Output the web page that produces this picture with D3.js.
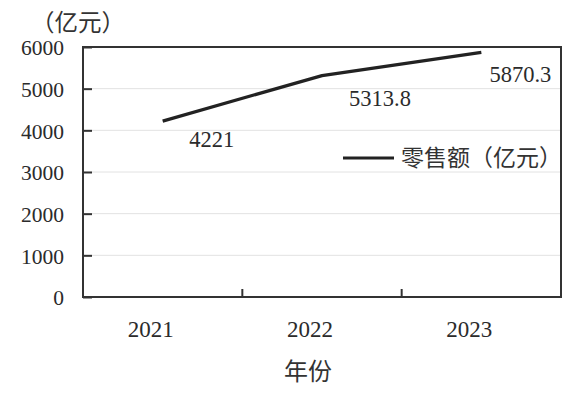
<!DOCTYPE html>
<html><head><meta charset="utf-8">
<script src="https://cdn.jsdelivr.net/npm/d3@7"></script>
<style>
html,body{margin:0;padding:0;background:#fff;}
svg{display:block;}
</style>
</head><body>
<svg id="c" width="567" height="393"></svg>
<script>
const years = ["2021", "2022", "2023"];
const sales = [4221, 5313.8, 5870.3];
const valueLabels = ["4221", "5313.8", "5870.3"];
const yTicks = [0, 1000, 2000, 3000, 4000, 5000, 6000];
const seriesName = "零售额（亿元）";
const yUnit = "（亿元）";
const xTitle = "年份";

const svg = d3.select("#c");
const L = 83, R = 561, T = 47, B = 297;
const serif = '"Liberation Serif", "DejaVu Serif", serif';
const cjk = '"Noto Sans CJK SC", "Noto Sans", sans-serif';

const x = d3.scaleBand().domain(years).range([L, R]);
const y = d3.scaleLinear().domain([0, 6000]).range([B, T]);

// gridlines
svg.append("g").selectAll("line").data(yTicks.filter(d => d > 0 && d < 6000)).join("line")
  .attr("x1", L).attr("x2", R).attr("y1", d => y(d)).attr("y2", d => y(d))
  .attr("stroke", "#e2e2e2").attr("stroke-width", 1);

// y axis ticks (inside)
const yAxis = d3.axisLeft(y).tickValues(yTicks).tickSize(-9).tickPadding(20).tickFormat(d3.format("d"));
const gy = svg.append("g").attr("transform", `translate(${L},0)`).call(yAxis);
gy.attr("font-family", null).attr("font-size", null);
gy.select(".domain").remove();
gy.selectAll(".tick line").attr("stroke", "#333").attr("stroke-width", 2);
gy.selectAll(".tick text").style("font-family", serif).style("font-size", "21.5px").attr("fill", "#2b2b2b").attr("x", -19).attr("dy", "0.36em");

// x axis ticks at band boundaries
svg.append("g").selectAll("line").data(years.slice(1)).join("line")
  .attr("x1", d => x(d)).attr("x2", d => x(d)).attr("y1", B).attr("y2", B - 8)
  .attr("stroke", "#333").attr("stroke-width", 2);
svg.append("g").selectAll("text").data(years).join("text")
  .attr("x", d => x(d) + x.bandwidth() / 2 - 12).attr("y", 337)
  .attr("text-anchor", "middle").style("font-family", serif).style("font-size", "23px").attr("fill", "#2b2b2b")
  .text(d => d);

// frame
svg.append("rect").attr("x", L).attr("y", T).attr("width", R - L).attr("height", B - T)
  .attr("fill", "none").attr("stroke", "#333").attr("stroke-width", 2);

// line
const line = d3.line().x((d, i) => x(years[i]) + x.bandwidth() / 2).y(d => y(d));
svg.append("path").datum(sales).attr("d", line)
  .attr("fill", "none").attr("stroke", "#222").attr("stroke-width", 3.2).attr("stroke-linejoin", "round");

// value labels
const labelDx = [49, 58, 39], labelDy = [26, 30, 30];
svg.append("g").selectAll("text").data(sales).join("text")
  .attr("x", (d, i) => x(years[i]) + x.bandwidth() / 2 + labelDx[i])
  .attr("y", (d, i) => y(d) + labelDy[i])
  .attr("text-anchor", "middle").style("font-family", serif).style("font-size", "22.5px").attr("fill", "#2b2b2b")
  .text((d, i) => valueLabels[i]);

// legend
svg.append("line").attr("x1", 343).attr("x2", 394).attr("y1", 158).attr("y2", 158)
  .attr("stroke", "#222").attr("stroke-width", 3.2);
svg.append("text").attr("x", 401).attr("y", 158).attr("dy", "0.36em")
  .style("font-family", cjk).style("font-size", "23px").attr("fill", "#333").text(seriesName);

// unit label
svg.append("text").attr("x", 31).attr("y", 23).attr("dy", "0.36em")
  .style("font-family", cjk).style("font-size", "23.5px").attr("fill", "#333").text(yUnit);

// x title
svg.append("text").attr("x", 308).attr("y", 371).attr("dy", "0.36em").attr("text-anchor", "middle")
  .style("font-family", cjk).style("font-size", "24px").attr("fill", "#333").text(xTitle);
</script>
</body></html>
